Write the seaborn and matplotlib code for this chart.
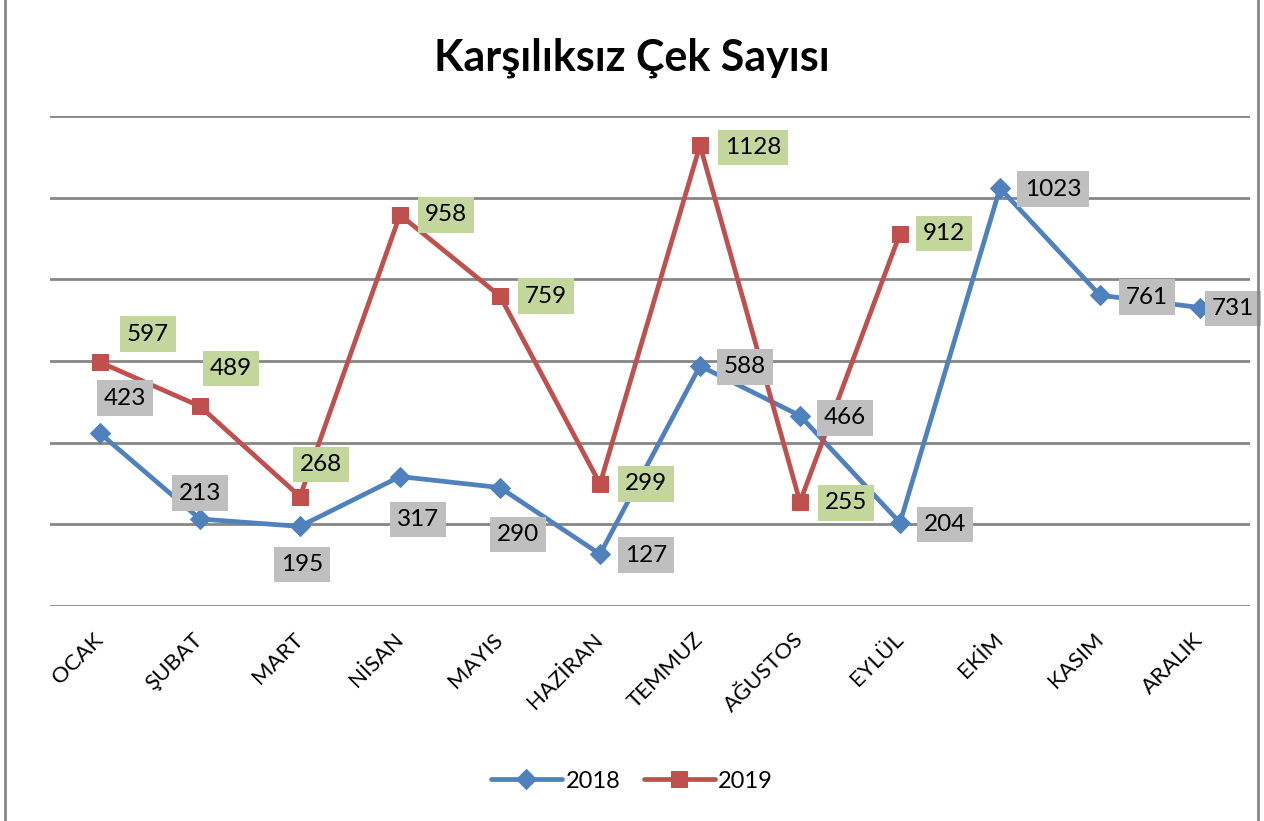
import matplotlib
matplotlib.use("Agg")
import matplotlib.pyplot as plt
import seaborn as sns
import pandas as pd
from matplotlib.patches import Rectangle

months = ["OCAK", "ŞUBAT", "MART", "NİSAN", "MAYIS", "HAZİRAN",
          "TEMMUZ", "AĞUSTOS", "EYLÜL", "EKİM", "KASIM", "ARALIK"]
values_2018 = [423, 213, 195, 317, 290, 127, 588, 466, 204, 1023, 761, 731]
values_2019 = [597, 489, 268, 958, 759, 299, 1128, 255, 912]

# label offsets in pixels (dx, dy), dy positive = up
off_2018 = [(25, 35), (0, 26), (2, -38), (18, -43), (18, -47), (46, -1),
            (45, -1), (45, -2), (45, -2), (53, -1), (47, -2), (33, -1)]
off_2019 = [(48, 28), (31, 38), (21, 32), (46, 0), (46, 0), (46, 0),
            (53, -2), (46, -1), (44, 0)]

BLUE = "#4F81BD"
RED = "#C0504D"

sns.set_theme(style="white")
plt.rcParams["font.family"] = ["Lato", "DejaVu Sans"]
plt.rcParams["text.color"] = "black"
plt.rcParams["xtick.color"] = "black"
plt.rcParams["xtick.labelcolor"] = "black"

fig = plt.figure(figsize=(12.64, 8.21), dpi=100)
ax = fig.add_axes([50 / 1264, 1 - 606 / 821, 1200 / 1264, 490 / 821])

df18 = pd.DataFrame({"x": range(len(values_2018)), "y": values_2018})
df19 = pd.DataFrame({"x": range(len(values_2019)), "y": values_2019})

sns.lineplot(data=df18, x="x", y="y", ax=ax, color=BLUE, lw=3.4, marker="D",
             markersize=10, markeredgecolor=BLUE, label="2018", sort=False,
             clip_on=False, zorder=3)
sns.lineplot(data=df19, x="x", y="y", ax=ax, color=RED, lw=3.4, marker="s",
             markersize=12, markeredgecolor=RED, label="2019", sort=False,
             clip_on=False, zorder=3)

for i, v in enumerate(values_2018):
    dx, dy = off_2018[i]
    ax.annotate(str(v), (i, v), xytext=(dx, dy), textcoords="offset pixels",
                ha="center", va="center", fontsize=17.5, color="black",
                bbox=dict(boxstyle="square,pad=0.3", fc="#BFBFBF", ec="none"),
                annotation_clip=False, zorder=5)
for i, v in enumerate(values_2019):
    dx, dy = off_2019[i]
    ax.annotate(str(v), (i, v), xytext=(dx, dy), textcoords="offset pixels",
                ha="center", va="center", fontsize=17.5, color="black",
                bbox=dict(boxstyle="square,pad=0.3", fc="#C3D69B", ec="none"),
                annotation_clip=False, zorder=5)

ax.set_xlim(-0.5, 11.5)
ax.set_ylim(0, 1200)
ax.set_yticks(range(0, 1201, 200))
ax.set_yticklabels([])
ax.yaxis.grid(True, color="#868686", lw=2)
ax.set_axisbelow(True)
ax.set_xticks(range(len(months)))
ax.set_xticklabels(months, rotation=45, ha="right", va="center",
                   rotation_mode="anchor", fontsize=16, color="black")
ax.tick_params(axis="x", pad=22, length=0)
ax.tick_params(axis="y", length=0)
ax.set_xlabel("")
ax.set_ylabel("")
for s in ax.spines.values():
    s.set_visible(False)

ax.get_legend().remove()
handles, labels = ax.get_legend_handles_labels()
fig.legend(handles, labels, loc="center", bbox_to_anchor=(0.5, 1 - 781 / 821),
           ncol=2, frameon=False, fontsize=17, handlelength=3.0,
           columnspacing=1.0, handletextpad=0.15, labelcolor="black")

fig.text(0.5, 1 - 58 / 821, "Karşılıksız Çek Sayısı", ha="center",
         va="center", fontsize=31, fontweight="bold", color="black")

fig.patches.append(Rectangle((5 / 1264, -0.01), 1253 / 1264, 1.02,
                             transform=fig.transFigure, fill=False,
                             ec="#868686", lw=2))

fig.savefig("out.png", dpi=100)
